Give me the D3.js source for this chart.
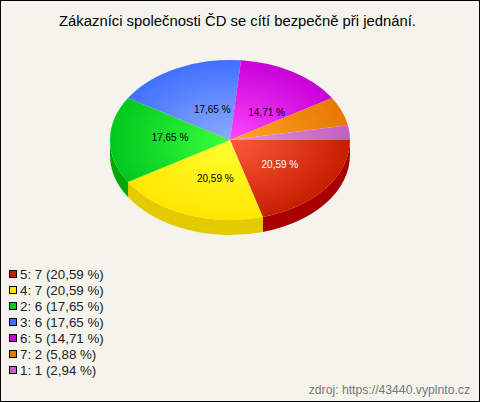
<!DOCTYPE html>
<html><head><meta charset="utf-8">
<script src="https://cdn.jsdelivr.net/npm/d3@7/dist/d3.min.js"></script>
<style>html,body{margin:0;padding:0;background:#f5f4ec}svg{display:block}text{font-family:"Liberation Sans",Arial,sans-serif}</style>
</head><body><svg id="c" width="480" height="402"></svg>
<script>
const titleText = "Zákazníci společnosti ČD se cítí bezpečně při jednání.";
const sourceText = "zdroj: https://43440.vyplnto.cz";
const categories = ["5","4","2","3","6","7","1"];
const counts = [7,7,6,6,5,2,1];
const percentLabels = ["20,59 %","20,59 %","17,65 %","17,65 %","14,71 %","5,88 %","2,94 %"];
const showOnPie = [true,true,true,true,true,false,false];
const baseColors = ["#c81e00","#ffe600","#00c81e","#4070ff","#c800d8","#e87800","#c060c0"];
const centerColors = ["#ff5a3c","#ffff32","#3cff3c","#8cacff","#ff46ff","#ffa628","#ea90e4"];
const sideColors = ["#a80000","#e3cb00","#00a800","#3060d0","#a000b0","#c06000","#a050a0"];
const labelColors = ["#ffffff","#000000","#000000","#000000","#000000","#000000","#000000"];
const labelNudgeX = [2,7,0,9,5,0,0];
const labelNudgeY = [0,1,-3,5,6,0,0];

const W=480,H=402,cx=230,cy=140,rx=120,ry=80,depth=15;
const svg=d3.select("#c");
svg.append("rect").attr("x",.5).attr("y",.5).attr("width",W-1).attr("height",H-1).attr("fill","#f5f4ec").attr("stroke","#000");
svg.append("text").attr("x",237.5).attr("y",26).attr("text-anchor","middle").attr("font-size",14.83).attr("fill","#000").text(titleText);

const pie=d3.pie().value(d=>d).sort(null).startAngle(Math.PI/2).endAngle(Math.PI*2.5);
const arcs=pie(counts);
const px=a=>cx+rx*Math.sin(a), py=a=>cy-ry*Math.cos(a);
const defs=svg.append("defs");
arcs.forEach((d,i)=>{
  const g=defs.append("radialGradient").attr("id","g"+i).attr("gradientUnits","userSpaceOnUse")
    .attr("cx",0).attr("cy",0).attr("r",120);
  g.append("stop").attr("offset",0).attr("stop-color",centerColors[i]);
  g.append("stop").attr("offset",1).attr("stop-color",baseColors[i]);
});
arcs.forEach((d,i)=>{
  const a0=Math.max(d.startAngle,Math.PI/2), a1=Math.min(d.endAngle,Math.PI*1.5);
  if(a1<=a0) return;
  const p=`M${px(a0)},${py(a0)}A${rx},${ry} 0 0 1 ${px(a1)},${py(a1)}L${px(a1)},${py(a1)+depth}A${rx},${ry} 0 0 0 ${px(a0)},${py(a0)+depth}Z`;
  svg.append("path").attr("d",p).attr("fill",sideColors[i]);
});
const arcGen=d3.arc().innerRadius(0).outerRadius(rx);
const pieTop=svg.append("g").attr("transform",`translate(${cx},${cy}) scale(1,${ry/rx})`);
pieTop.selectAll("path").data(arcs).join("path").attr("d",arcGen).attr("fill",(d,i)=>`url(#g${i})`);
arcs.forEach((d,i)=>{
  if(!showOnPie[i]) return;
  const m=(d.startAngle+d.endAngle)/2;
  svg.append("text").attr("x",cx+.5*rx*Math.sin(m)+labelNudgeX[i]).attr("y",cy-.5*ry*Math.cos(m)+labelNudgeY[i]+4)
    .attr("text-anchor","middle").attr("font-size",10).attr("fill",labelColors[i]).text(percentLabels[i]);
});
const rowY=d3.scaleBand().domain(d3.range(categories.length)).range([266,378]);
categories.forEach((c,i)=>{
  const y=rowY(i);
  svg.append("rect").attr("x",9.5).attr("y",y+4.5).attr("width",7).attr("height",7).attr("fill",baseColors[i]).attr("stroke","#000");
  svg.append("text").attr("x",20).attr("y",y+13).attr("font-size",13.33).attr("fill","#222").text(`${c}: ${counts[i]} (${percentLabels[i]})`);
});
svg.append("text").attr("x",470).attr("y",394).attr("text-anchor","end").attr("font-size",12.2).attr("fill","#777").text(sourceText);
</script></body></html>
